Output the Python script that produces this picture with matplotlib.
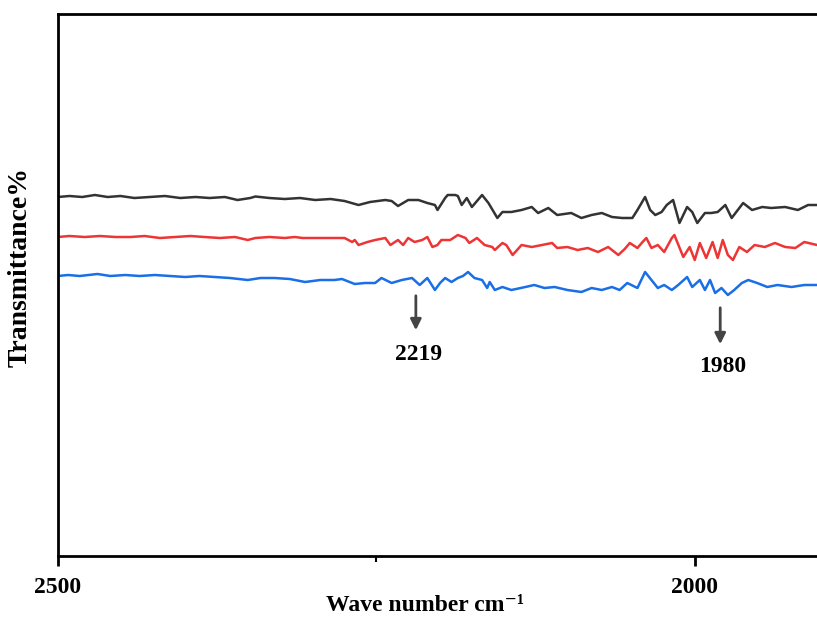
import matplotlib.pyplot as plt
from matplotlib.ticker import FixedLocator

# wavenumber (cm-1) and transmittance, one trace per sample
wn_black = [2500, 2491, 2481, 2471, 2461, 2451, 2440, 2428, 2416, 2404, 2392, 2381, 2369, 2359,
            2349, 2345, 2334, 2322, 2310, 2298, 2286, 2275, 2264, 2255, 2243, 2238, 2233, 2225,
            2217, 2210, 2204, 2202, 2196, 2194, 2188, 2186, 2183, 2179, 2175, 2167, 2162, 2155,
            2151, 2144, 2136, 2128, 2123, 2115, 2108, 2097, 2089, 2081, 2073, 2065, 2057, 2049,
            2045, 2039, 2035, 2031, 2026, 2022, 2017, 2012, 2006, 2002, 1998, 1992, 1987, 1982,
            1976, 1971, 1962, 1955, 1947, 1940, 1929, 1919, 1911, 1904]
t_black = [71.8, 72.0, 71.8, 72.2, 71.8, 72.0, 71.6, 71.8, 72.0, 71.6, 71.8, 71.6, 71.8, 71.2,
           71.6, 71.9, 71.6, 71.4, 71.6, 71.2, 71.4, 71.0, 70.2, 70.8, 71.2, 71.0, 70.0, 71.2,
           71.2, 70.6, 70.2, 69.2, 71.6, 72.2, 72.2, 72.0, 70.2, 71.6, 69.8, 72.2, 70.6, 67.6,
           68.8, 68.8, 69.2, 69.8, 68.6, 69.6, 68.2, 68.6, 67.6, 68.2, 68.6, 67.8, 67.6, 67.6,
           69.2, 71.8, 69.2, 68.2, 68.8, 70.2, 71.2, 66.6, 69.8, 68.8, 66.6, 68.6, 68.6, 68.8,
           70.2, 67.6, 70.6, 69.2, 69.8, 69.6, 69.8, 69.2, 70.2, 70.2]

wn_red = [2500, 2491, 2479, 2467, 2455, 2443, 2432, 2420, 2408, 2396, 2385, 2373, 2361, 2351,
          2345, 2334, 2322, 2314, 2308, 2298, 2286, 2275, 2269, 2267, 2264, 2257, 2251, 2243,
          2239, 2233, 2229, 2225, 2220, 2214, 2210, 2206, 2202, 2199, 2192, 2186, 2180, 2177,
          2171, 2165, 2159, 2157, 2151, 2148, 2143, 2136, 2128, 2120, 2112, 2108, 2100, 2092,
          2084, 2076, 2068, 2060, 2055, 2051, 2045, 2041, 2038, 2034, 2029, 2024, 2018, 2016,
          2009, 2004, 2000, 1996, 1991, 1986, 1982, 1978, 1974, 1970, 1965, 1959, 1953, 1945,
          1937, 1929, 1921, 1914, 1904]
t_red = [63.8, 64.0, 63.8, 64.0, 63.8, 63.8, 64.0, 63.6, 63.8, 64.0, 63.8, 63.6, 63.8, 63.2,
         63.6, 63.8, 63.6, 63.8, 63.6, 63.6, 63.6, 63.6, 62.8, 63.2, 62.2, 62.8, 63.2, 63.6,
         62.2, 63.2, 62.2, 63.6, 62.8, 63.2, 63.8, 61.8, 62.2, 63.2, 63.2, 64.2, 63.6, 62.6,
         63.6, 62.2, 61.8, 61.2, 62.6, 62.2, 60.2, 62.2, 61.8, 62.2, 62.6, 61.6, 61.8, 61.2,
         61.6, 60.8, 61.8, 60.2, 61.4, 62.6, 61.6, 62.8, 63.6, 61.6, 62.2, 60.8, 63.6, 64.2,
         59.8, 61.8, 59.2, 62.6, 59.6, 62.8, 59.6, 63.2, 60.2, 59.2, 61.8, 60.8, 62.2, 61.8,
         62.6, 61.8, 61.6, 62.8, 62.2]

wn_blue = [2500, 2492, 2483, 2469, 2459, 2447, 2436, 2424, 2412, 2400, 2389, 2377, 2365, 2351,
           2341, 2330, 2318, 2306, 2294, 2283, 2277, 2267, 2259, 2251, 2246, 2238, 2230, 2222,
           2216, 2210, 2204, 2200, 2196, 2191, 2186, 2182, 2178, 2173, 2167, 2163, 2161, 2157,
           2151, 2144, 2133, 2126, 2118, 2110, 2100, 2089, 2081, 2073, 2065, 2059, 2053, 2045,
           2039, 2034, 2029, 2024, 2018, 2013, 2006, 2002, 1996, 1992, 1988, 1984, 1979, 1974,
           1969, 1963, 1958, 1951, 1943, 1935, 1924, 1914, 1904]
t_blue = [56.0, 56.2, 56.0, 56.4, 56.0, 56.2, 56.0, 56.2, 56.0, 55.8, 56.0, 55.8, 55.6, 55.2,
          55.6, 55.6, 55.4, 54.8, 55.2, 55.2, 55.4, 54.4, 54.6, 54.6, 55.6, 54.6, 55.2, 55.6,
          54.2, 55.6, 53.2, 54.6, 55.6, 54.8, 55.6, 56.0, 56.8, 55.6, 55.2, 53.6, 54.8, 53.2,
          53.8, 53.2, 53.8, 54.2, 53.6, 53.8, 53.2, 52.8, 53.6, 53.2, 53.8, 53.2, 54.6, 53.6,
          56.8, 55.2, 53.6, 54.2, 53.2, 54.2, 55.8, 53.8, 55.2, 53.2, 55.2, 52.6, 53.6, 52.2,
          53.2, 54.6, 55.2, 54.6, 53.8, 54.2, 53.8, 54.2, 54.2]

peaks = [2219, 1980]
peak_labels = ['2219', '1980']

plt.rcParams['font.family'] = ['Liberation Serif', 'DejaVu Serif']
plt.rcParams['font.weight'] = 'bold'

fig = plt.figure(figsize=(8.17, 6.2), dpi=100)
ax = fig.add_axes([58 / 817, 64 / 620, 1 - 58 / 817, 542 / 620])

ax.plot(wn_black, t_black, color='#333333', lw=1.8)
ax.plot(wn_red, t_red, color='#ee3535', lw=1.8)
ax.plot(wn_blue, t_blue, color='#1a6ee6', lw=1.8)

ax.set_xlim(2500, 1904)
ax.set_ylim(0, 108.4)

# arrows under the blue trace, labels below them
arrow_top = [52.6, 50.2]
arrow_tip = [44.6, 41.8]
label_y = [40.2, 37.8]
for p, lab, y0, y1, yl in zip(peaks, peak_labels, arrow_top, arrow_tip, label_y):
    ax.annotate('', xy=(p, y1), xytext=(p, y0),
                arrowprops=dict(arrowstyle='-|>', color='#444444', lw=2, mutation_scale=16))
    ax.text(p - 2, yl, lab, ha='center', va='center', fontsize=17, fontweight='bold')

ax.xaxis.set_major_locator(FixedLocator([2500, 2000]))
ax.xaxis.set_minor_locator(FixedLocator([2250, 1750]))
ax.tick_params(axis='x', which='major', direction='out', length=7, width=2,
               labelsize=17, pad=8)
ax.tick_params(axis='x', which='minor', direction='out', length=4, width=1.5)
ax.set_yticks([])

for s in ['top', 'left', 'bottom']:
    ax.spines[s].set_linewidth(2)
ax.spines['right'].set_visible(False)

ax.set_xlabel('Wave number cm\u207b\u00b9', fontsize=17, fontweight='bold')
ax.xaxis.set_label_coords((425 - 58) / 759, -0.072)
ax.set_ylabel('Transmittance%', fontsize=20, fontweight='bold')
ax.yaxis.set_label_coords(-0.033, (556 - 267) / 542)

fig.savefig('out.png', dpi=100)
